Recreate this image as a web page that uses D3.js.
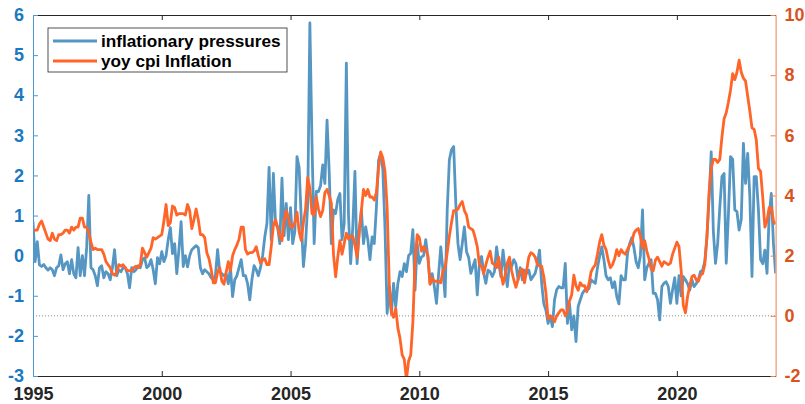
<!DOCTYPE html>
<html>
<head>
<meta charset="utf-8">
<script src="https://cdn.jsdelivr.net/npm/d3@7/dist/d3.min.js"></script>
<style>
  body { margin: 0; background: #fff; }
  svg text { font-family: "Liberation Sans", Arial, Helvetica, sans-serif; font-weight: bold; }
</style>
</head>
<body>
<svg id="chart" width="805" height="404"></svg>
<script>
// monthly series, Jan 1995 .. Nov 2023
var startYear = 1995;

// inflationary pressures (left axis), one row per year
var pressures = [].concat(
  [0.85, -0.15, 0.35, -0.23, -0.27, -0.22, -0.3, -0.36, -0.3, -0.35, -0.5, -0.3],
  [-0.25, 0.02, -0.35, -0.2, -0.15, -0.45, -0.1, -0.45, -0.55, 0.2, -0.5, 0.0],
  [-0.5, 0.2, 1.5, -0.3, -0.35, -0.5, -0.75, -0.3, -0.25, -0.55, -0.4, -0.45],
  [-0.6, -0.3, 0.15, -0.5, -0.35, -0.4, -0.3, -0.3, -0.45, -0.8, -0.3, -0.4],
  [-0.35, -0.25, -0.3, -0.1, -0.05, -0.3, -0.25, -0.1, -0.35, -0.7, -0.05, -0.2],
  [0.1, -0.15, 0.0, 0.4, 0.7, 0.05, 0.3, -0.45, 0.15, 0.85, -0.27, 0.0],
  [-0.28, 0.0, 0.15, 0.2, 0.25, 0.2, -0.3, -0.45, -0.35, -0.4, -0.45, -0.55],
  [-0.6, -0.5, 0.15, -0.4, -0.45, -0.5, -0.45, -0.7, -0.3, -1.02, -0.6, -0.5],
  [-0.3, -0.1, -0.5, -0.5, -0.7, -1.1, -0.6, -0.25, -0.35, -0.5, -0.3, 0.0],
  [0.47, 0.8, 2.2, 0.4, 2.05, 0.8, 0.7, 0.3, 1.93, 0.5, 1.3, 0.4],
  [1.2, 0.3, 0.6, 2.47, 2.2, 0.9, -0.27, 0.3, 1.3, 5.8, 2.8, 0.3],
  [1.6, 1.6, 1.75, 2.26, 1.8, 3.38, 2.1, 0.3, 1.14, 1.05, 1.4, 1.55],
  [0.4, 0.8, 4.8, 1.0, -0.2, 0.72, 2.1, -0.2, 0.64, 1.14, 0.3, 0.72],
  [0.4, -0.1, 0.47, 0.3, 1.2, 2.38, 2.55, 2.14, 0.7, -1.44, -0.77, -1.44],
  [-0.69, -1.27, -0.7, -0.4, -0.52, -0.2, -0.4, 0.0, 0.06, 0.65, -0.86, 0.3],
  [-0.19, -0.03, 0.0, 0.4, -0.05, -0.7, -0.45, -0.77, -1.19, -0.44, 0.22, -0.36],
  [-1.02, 1.14, 2.39, 2.64, 2.72, 1.3, 0.3, -0.1, 0.3, 0.72, 0.1, -0.05],
  [-0.44, -0.27, -0.1, -0.98, -0.19, -0.02, -0.44, -0.69, -0.36, -0.4, -0.52, -0.4],
  [0.22, -0.19, -0.52, 0.14, -0.36, -0.77, -0.19, -0.27, -0.1, -0.2, -0.6, -0.3],
  [-0.6, -0.36, -0.44, -0.36, -0.6, -0.52, -0.44, -0.2, 0.14, -0.69, -1.2, -1.36],
  [-1.69, -1.5, -1.77, -1.1, -0.85, -0.77, -0.8, -0.8, -0.19, -1.69, -1.2, -1.85],
  [-1.5, -2.14, -1.27, -1.1, -0.94, -0.86, -0.86, -0.82, -0.6, -0.65, -0.69, -0.3],
  [-0.02, 0.22, -0.1, -0.5, -0.6, -0.55, -0.8, -0.65, -1.02, -1.2, -0.5, -0.6],
  [-0.6, 0.06, 0.3, 0.45, 0.2, -0.15, -0.3, 0.0, 1.14, -0.6, -0.3, -0.19],
  [-0.1, -0.94, -0.94, -1.1, -1.6, -0.77, -0.69, -0.65, -0.77, -1.19, -0.85, -0.55],
  [-1.19, -0.5, -1.0, -0.52, -0.6, -0.7, -0.86, -0.6, -0.77, -0.7, -0.6, -0.4],
  [-0.36, -0.15, 0.47, 1.4, 2.59, 0.6, -0.19, 0.3, 1.2, 1.97, 2.05, -0.19],
  [1.0, 2.47, 2.4, 1.14, 1.1, 0.64, 0.9, 2.8, 1.8, 2.55, 1.47, -0.52],
  [1.97, 1.97, 1.14, -0.1, -0.2, 0.14, -0.44, 1.0, 1.55, 0.3, -0.44]
);

// yoy cpi inflation (right axis), one row per year
var cpiYoy = [].concat(
  [2.8, 2.85, 2.85, 3.05, 3.15, 2.95, 2.75, 2.55, 2.5, 2.75, 2.55, 2.5],
  [2.7, 2.7, 2.75, 2.85, 2.85, 2.75, 2.95, 2.85, 2.95, 2.95, 3.25, 3.25],
  [2.95, 2.95, 2.75, 2.45, 2.2, 2.25, 2.2, 2.2, 2.2, 2.05, 1.8, 1.7],
  [1.6, 1.4, 1.35, 1.45, 1.7, 1.65, 1.7, 1.6, 1.5, 1.5, 1.5, 1.6],
  [1.65, 1.6, 1.7, 2.25, 2.1, 1.95, 2.1, 2.25, 2.6, 2.55, 2.6, 2.65],
  [2.7, 3.15, 3.7, 3.0, 3.1, 3.65, 3.6, 3.35, 3.4, 3.4, 3.4, 3.35],
  [3.7, 3.5, 2.9, 3.2, 3.55, 3.2, 2.7, 2.7, 2.6, 2.1, 1.9, 1.55],
  [1.1, 1.1, 1.45, 1.6, 1.15, 1.05, 1.45, 1.8, 1.5, 2.0, 2.2, 2.35],
  [2.55, 2.95, 2.95, 2.2, 2.05, 2.1, 2.1, 2.15, 2.3, 2.0, 1.75, 1.85],
  [1.9, 1.7, 1.7, 2.3, 3.0, 3.2, 2.95, 2.65, 2.5, 3.15, 3.5, 3.25],
  [2.95, 2.95, 3.1, 3.45, 2.8, 2.5, 3.1, 3.55, 4.6, 4.25, 3.4, 3.35],
  [3.95, 3.55, 3.3, 3.5, 4.1, 4.2, 4.0, 3.75, 2.05, 1.3, 1.95, 2.5],
  [2.05, 2.4, 2.75, 2.55, 2.65, 2.65, 2.35, 1.95, 2.75, 3.5, 4.2, 4.0],
  [4.2, 3.95, 3.95, 3.85, 4.1, 4.9, 5.45, 5.25, 4.8, 3.6, 1.05, 0.1],
  [-0.05, 0.25, -0.4, -0.75, -1.3, -1.45, -2.12, -1.5, -1.3, -0.2, 1.8, 2.7],
  [2.6, 2.15, 2.3, 2.2, 2.0, 1.05, 1.25, 1.15, 1.15, 1.15, 1.1, 1.5],
  [1.6, 2.1, 2.65, 3.1, 3.5, 3.5, 3.55, 3.7, 3.8, 3.5, 3.35, 2.95],
  [2.9, 2.85, 2.6, 2.3, 1.7, 1.65, 1.4, 1.7, 1.95, 2.15, 1.75, 1.7],
  [1.6, 1.95, 1.45, 1.05, 1.35, 1.75, 1.95, 1.5, 1.2, 0.95, 1.2, 1.5],
  [1.55, 1.1, 1.5, 1.95, 2.1, 2.05, 1.95, 1.7, 1.65, 1.65, 1.3, 0.75],
  [-0.1, 0.0, -0.05, -0.2, 0.0, 0.1, 0.2, 0.2, 0.0, 0.15, 0.5, 0.7],
  [1.35, 1.0, 0.85, 1.1, 1.0, 1.0, 0.8, 1.05, 1.45, 1.6, 1.7, 2.05],
  [2.45, 2.7, 2.35, 2.2, 1.85, 1.6, 1.7, 1.9, 2.2, 2.0, 2.2, 2.1],
  [2.05, 2.2, 2.35, 2.45, 2.75, 2.85, 2.9, 2.65, 2.25, 2.5, 2.15, 1.9],
  [1.55, 1.5, 1.85, 1.95, 1.8, 1.65, 1.8, 1.75, 1.7, 1.75, 2.05, 2.25],
  [2.45, 2.3, 1.5, 0.35, 0.1, 0.65, 1.0, 1.3, 1.35, 1.2, 1.15, 1.35],
  [1.4, 1.7, 2.6, 4.1, 4.9, 5.2, 5.2, 5.1, 5.2, 5.95, 6.55, 6.75],
  [7.1, 7.5, 8.05, 7.85, 8.1, 8.5, 8.1, 7.9, 7.8, 7.3, 6.8, 6.25],
  [6.2, 5.85, 4.9, 4.8, 3.95, 2.95, 3.15, 3.6, 3.6, 3.15, 3.05]
);

var xTicks = [1995, 2000, 2005, 2010, 2015, 2020];
var leftTicks = [-3, -2, -1, 0, 1, 2, 3, 4, 5, 6];
var rightTicks = [-2, 0, 2, 4, 6, 8, 10];
var seriesNames = ["inflationary pressures", "yoy cpi Inflation"];

var colors = {
  pressures: "#5596c3",
  cpi: "#ff6428",
  leftAxis: "#1a78c2",
  leftLine: "#4c98d4",
  rightAxis: "#d9531e",
  rightLine: "#ee7d4f",
  frame: "#262626"
};

var W = 805, H = 404;
var margin = { left: 33, top: 15, right: 29.4, bottom: 28 };
var innerW = W - margin.left - margin.right;
var innerH = H - margin.top - margin.bottom;

// plain hyphen minus, like the original labels
var fmt = function(d) { return String(d); };

var svg = d3.select("#chart");
var g = svg.append("g").attr("transform", "translate(" + margin.left + "," + margin.top + ")");

var lastIdx = pressures.length - 1;
var x = d3.scaleLinear().domain([startYear, startYear + lastIdx / 12]).range([0, innerW]);
var yL = d3.scaleLinear().domain([-3, 6]).range([innerH, 0]);
var yR = d3.scaleLinear().domain([-2, 10]).range([innerH, 0]);

g.append("clipPath").attr("id", "plot-clip")
  .append("rect").attr("width", innerW).attr("height", innerH);

// dotted zero line of the right axis
g.append("line")
  .attr("x1", 0).attr("x2", innerW)
  .attr("y1", yR(0)).attr("y2", yR(0))
  .attr("stroke", "#8c8c8c")
  .attr("stroke-width", 1)
  .attr("stroke-dasharray", "1,2");

var lineL = d3.line()
  .x(function(d, i) { return x(startYear + i / 12); })
  .y(function(d) { return yL(d); });
var lineR = d3.line()
  .x(function(d, i) { return x(startYear + i / 12); })
  .y(function(d) { return yR(d); });

g.append("path").datum(pressures)
  .attr("clip-path", "url(#plot-clip)")
  .attr("fill", "none")
  .attr("stroke", colors.pressures)
  .attr("stroke-width", 2.8)
  .attr("stroke-linejoin", "round")
  .attr("d", lineL);

g.append("path").datum(cpiYoy)
  .attr("clip-path", "url(#plot-clip)")
  .attr("fill", "none")
  .attr("stroke", colors.cpi)
  .attr("stroke-width", 2.8)
  .attr("stroke-linejoin", "round")
  .attr("d", lineR);

// x axes, bottom and top (ticks point inward)
var xAxis = g.append("g")
  .attr("transform", "translate(0," + innerH + ")")
  .call(d3.axisBottom(x).tickValues(xTicks).tickFormat(fmt)
    .tickSizeInner(-5).tickSizeOuter(0).tickPadding(11));
xAxis.selectAll("path, line").attr("stroke", colors.frame);
xAxis.selectAll("text").attr("fill", colors.frame).style("font-size", "18px");

var xTop = g.append("g")
  .call(d3.axisTop(x).tickValues(xTicks).tickFormat("")
    .tickSizeInner(-5).tickSizeOuter(0));
xTop.selectAll("path, line").attr("stroke", colors.frame);

// left axis
var leftAxis = g.append("g")
  .call(d3.axisLeft(yL).tickValues(leftTicks).tickFormat(fmt)
    .tickSizeInner(-5).tickSizeOuter(0).tickPadding(9));
leftAxis.selectAll("path, line").attr("stroke", colors.leftLine);
leftAxis.selectAll("text").attr("fill", colors.leftAxis).style("font-size", "18px");

// right axis
var rightAxis = g.append("g")
  .attr("transform", "translate(" + innerW + ",0)")
  .call(d3.axisRight(yR).tickValues(rightTicks).tickFormat(fmt)
    .tickSizeInner(-5).tickSizeOuter(0).tickPadding(9));
rightAxis.selectAll("path, line").attr("stroke", colors.rightLine);
rightAxis.selectAll("text").attr("fill", colors.rightAxis).style("font-size", "18px");

// legend
var legend = svg.append("g").attr("transform", "translate(48,28)");
legend.append("rect")
  .attr("width", 239).attr("height", 44)
  .attr("fill", "#fff")
  .attr("stroke", colors.frame)
  .attr("stroke-width", 0.8);

var legendRows = legend.selectAll("g.row")
  .data([colors.pressures, colors.cpi])
  .enter().append("g")
    .attr("class", "row")
    .attr("transform", function(d, i) { return "translate(0," + (13 + i * 20) + ")"; });
legendRows.append("line")
  .attr("x1", 5).attr("x2", 49)
  .attr("stroke", function(d) { return d; })
  .attr("stroke-width", 2.8);
legendRows.append("text")
  .attr("x", 53).attr("y", 6)
  .attr("fill", "#000")
  .style("font-size", "17.2px")
  .text(function(d, i) { return seriesNames[i]; });
</script>
</body>
</html>
